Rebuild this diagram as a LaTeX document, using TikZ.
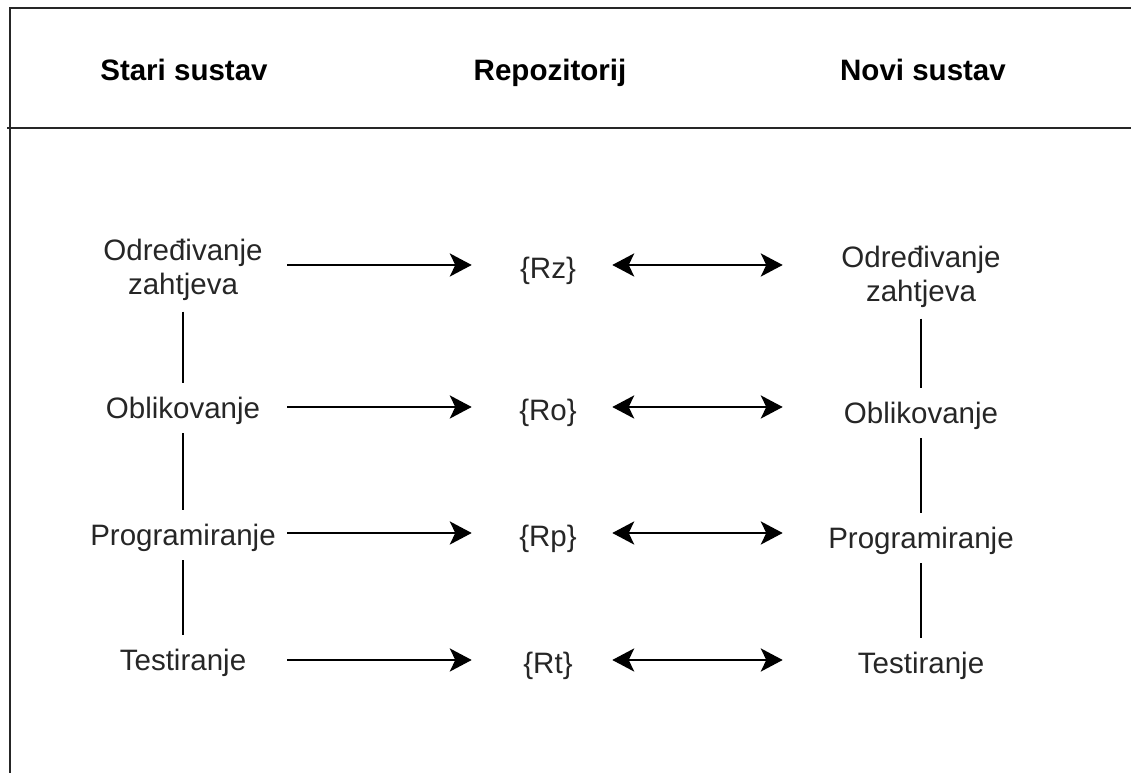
\documentclass[tikz,border=0pt]{standalone}
\usepackage{fontspec}
\setmainfont{Liberation Sans}
\usetikzlibrary{arrows.meta}

\begin{document}
\begin{tikzpicture}[
		faza/.style={font=\fontsize{21pt}{24pt}\selectfont, align=center, inner xsep=0pt, inner ysep=0.27cm, text=black!85},
		jedan/.style={text height=16.8pt, text depth=1.7pt, inner ysep=0.3cm},
		stari/.style={faza, minimum width=5.2cm},
		novi/.style={faza, minimum width=6.9cm},
		repo/.style={faza, minimum width=3.5cm, text height=19.8pt, text depth=0pt},
		naslov/.style={font=\fontsize{21pt}{24pt}\selectfont\bfseries, anchor=base},
		vrh/.tip={Stealth[length=0.55cm, width=0.58cm, inset=0.14cm]},
		pijl/.style={-vrh, line width=1.4pt, shorten >=0.15cm},
		dvopijl/.style={vrh-vrh, line width=1.4pt, shorten <=-0.15cm},
		veza/.style={line width=1.4pt}
	]
			\useasboundingbox (0,0) rectangle (28.275,-19.325);

			% okvir
			\draw[veza, black!85] (28.275,-0.2) -- (0.25,-0.2) -- (0.25,-19.325);
			\draw[veza, black!85] (0.175,-3.2) -- (28.275,-3.2);

			\node[naslov] (Hs) at (4.6,-2.025) {Stari sustav};
			\node[naslov] (Hr) at (13.75,-2.025) {Repozitorij};
			\node[naslov] (Hn) at (23.075,-2.025) {Novi sustav};

			\node[stari] (s1) at (4.575,-6.75) {Određivanje\\zahtjeva};
			\node[stari, jedan] (s2) at (4.575,-10.2) {Oblikovanje};
			\node[stari, jedan] (s3) at (4.575,-13.375) {Programiranje};
			\node[stari, jedan] (s4) at (4.575,-16.5) {Testiranje};

			\node[repo] (r1) at (13.7,-6.625) {\{Rz\}};
			\node[repo] (r2) at (13.7,-10.175) {\{Ro\}};
			\node[repo] (r3) at (13.7,-13.325) {\{Rp\}};
			\node[repo] (r4) at (13.7,-16.5) {\{Rt\}};

			\node[novi] (n1) at (23.025,-6.925) {Određivanje\\zahtjeva};
			\node[novi, jedan] (n2) at (23.025,-10.325) {Oblikovanje};
			\node[novi, jedan] (n3) at (23.025,-13.45) {Programiranje};
			\node[novi, jedan] (n4) at (23.025,-16.575) {Testiranje};

			\draw[veza] (s1) -- (s2);
			\draw[veza] (s2) -- (s3);
			\draw[veza] (s3) -- (s4);

			\draw[veza] (n1) -- (n2);
			\draw[veza] (n2) -- (n3);
			\draw[veza] (n3) -- (n4);

			\foreach \i in {1,2,3,4}
			{
				\draw[pijl] (s\i.east |- r\i) -- (r\i);
				\draw[dvopijl] (r\i) -- (n\i.west |- r\i);
			}
		\end{tikzpicture}
\end{document}
